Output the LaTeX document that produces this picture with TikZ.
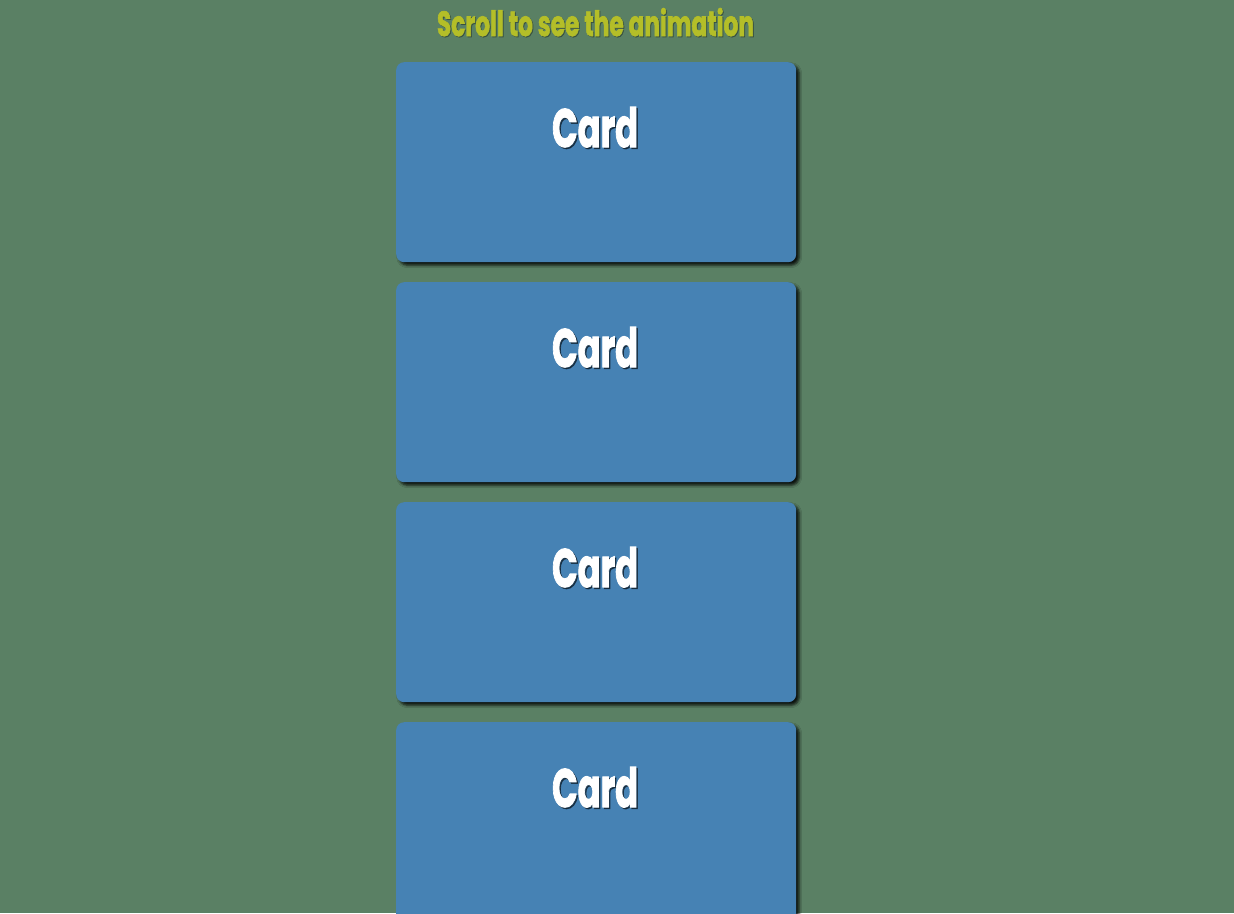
\documentclass[tikz,border=0pt]{standalone}
\usepackage{fontspec}
\setmainfont{Poppins}[BoldFeatures={FakeBold=2}]
\usetikzlibrary{shadows.blur}
\definecolor{bg}{HTML}{5A8064}
\definecolor{cardblue}{HTML}{4682B4}
\definecolor{titlecol}{HTML}{B4BE28}
\begin{document}
\begin{tikzpicture}[x=1pt,y=-1pt,
  cardbox/.style={fill=cardblue, draw=none, rounded corners=8pt, minimum width=400pt, minimum height=200pt, inner sep=0pt,
    blur shadow={shadow xshift=3pt, shadow yshift=-3pt, shadow blur radius=2.5pt, shadow opacity=85}},
  cardtext/.style={text=white, inner sep=0pt, anchor=base},
  cardshadow/.style={text=black, opacity=0.5, inner sep=0pt, anchor=base},
  titletext/.style={text=titlecol, inner sep=0pt, anchor=base},
  titleshadow/.style={text=black, opacity=0.25, inner sep=0pt, anchor=base}]
\useasboundingbox (0,0) rectangle (1234,913);
\clip (0,0) rectangle (1234,913);
\fill[bg] (0,0) rectangle (1234,913);
\node[titleshadow] (titleshade) at (596.5,37) {\resizebox{317pt}{28pt}{\bfseries Scroll to see the animation}};
\node[titletext] (title) at (595.5,36) {\resizebox{317pt}{28pt}{\bfseries Scroll to see the animation}};
\foreach \i/\t in {1/62,2/282,3/502,4/722} {
  \node[cardbox, anchor=north west] (card\i) at (396,\t) {};
  \node[cardshadow] (shade\i) at (596.5,\t+86.5) {\resizebox{86pt}{40pt}{\bfseries Card}};
  \node[cardtext] (label\i) at (595,\t+85) {\resizebox{86pt}{40pt}{\bfseries Card}};
}
\end{tikzpicture}
\end{document}
